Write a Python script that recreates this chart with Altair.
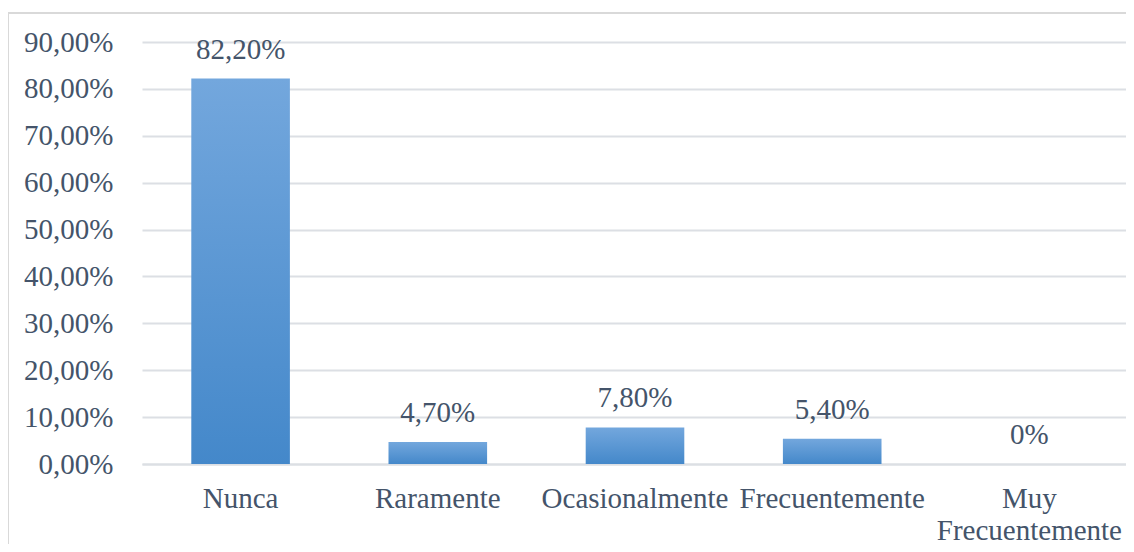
import altair as alt
import pandas as pd

categories = ["Nunca", "Raramente", "Ocasionalmente", "Frecuentemente", "Muy Frecuentemente"]
values = [0.822, 0.047, 0.078, 0.054, 0.0]
value_labels = ["82,20%", "4,70%", "7,80%", "5,40%", "0%"]
y_ticks = [0, 0.1, 0.2, 0.3, 0.4, 0.5, 0.6, 0.7, 0.8, 0.9]

df = pd.DataFrame({"cat": categories, "val": values, "lbl": value_labels})

FONT = "Times New Roman, Liberation Serif, serif"
TXT = "#44546A"
GRID = "#DCDFE4"
FS = 29

x_enc = alt.X(
    "cat:N",
    sort=categories,
    title=None,
    scale=alt.Scale(paddingInner=0.5, paddingOuter=0.25, range=[0, 986]),
    axis=alt.Axis(
        labelAngle=0,
        labelFont=FONT,
        labelFontSize=FS,
        labelColor=TXT,
        labelPadding=20,
        labelOverlap=False,
        labelBound=False,
        labelLimit=0,
        labelLineHeight=32,
        ticks=False,
        domain=True,
        domainColor=GRID,
        domainWidth=2,
        labelExpr="datum.value == 'Muy Frecuentemente' ? ['Muy', 'Frecuentemente'] : datum.value",
    ),
)

y_enc = alt.Y(
    "val:Q",
    title=None,
    scale=alt.Scale(domain=[0, 0.9], nice=False),
    axis=alt.Axis(
        values=y_ticks,
        format=".2%",
        labelExpr="replace(datum.label, '.', ',')",
        labelFont=FONT,
        labelFontSize=FS,
        labelColor=TXT,
        labelPadding=29,
        ticks=False,
        domain=False,
        grid=True,
        gridColor=GRID,
        gridWidth=2,
    ),
)

base = alt.Chart(df)

bars = base.mark_bar(
    color=alt.Gradient(
        gradient="linear",
        stops=[
            alt.GradientStop(color="#73A7DD", offset=0),
            alt.GradientStop(color="#4488CA", offset=1),
        ],
        x1=0, x2=0, y1=0, y2=1,
    )
).encode(x=x_enc, y=y_enc)

texts = base.mark_text(
    font=FONT, fontSize=FS, color=TXT, baseline="alphabetic", dy=-20
).encode(x=alt.X("cat:N", sort=categories), y="val:Q", text="lbl:N")

border = alt.Chart(df).mark_rect(
    fill=None, stroke="#D9D9D9", strokeWidth=2
).encode(
    x=alt.value(-134), x2=alt.value(1200), y=alt.value(-29), y2=alt.value(700)
)

chart = alt.layer(border, bars, texts).properties(
    width=984,
    height=422,
    autosize=alt.AutoSizeParams(type="none"),
    padding={"left": 134, "top": 34, "right": 0, "bottom": 80},
).configure_view(stroke=None, clip=False)

chart.save("out.html", embed_options={"renderer": "svg", "actions": False})
